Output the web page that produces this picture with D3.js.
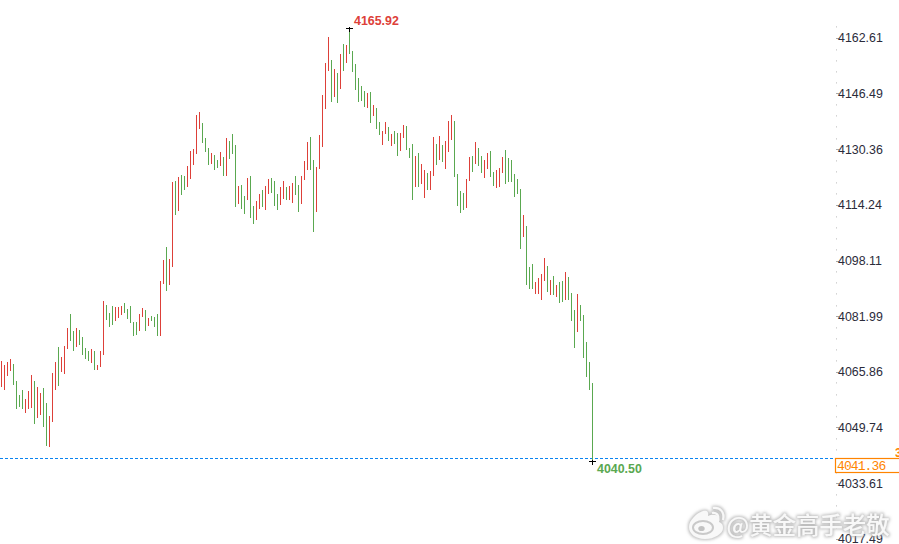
<!DOCTYPE html>
<html>
<head>
<meta charset="utf-8">
<style>
  html, body { margin: 0; padding: 0; background: #fff; overflow: hidden; }
  svg { display: block; }
</style>
<script src="https://cdn.jsdelivr.net/npm/d3@7/dist/d3.min.js"></script>
</head>
<body>
<svg id="chart" width="899" height="544"></svg>
<script>
// Session highs for each bar, oldest first
const highs = [
  4069.4,4068.3,4069.2,4070.0,4068.6,4063.7,4059.6,4061.0,4058.4,4060.8,
  4065.4,4063.7,4061.9,4060.2,4061.6,4057.3,4053.5,4066.0,4069.2,4073.5,
  4070.6,4073.8,4079.0,4083.1,4078.1,4079.0,4078.4,4076.4,4073.2,4072.3,
  4072.9,4072.3,4068.3,4072.3,4086.8,4085.6,4083.4,4085.4,4085.1,4085.1,
  4085.4,4086.2,4084.5,4085.4,4080.7,4080.7,4083.1,4084.8,4084.2,4081.9,
  4082.5,4082.2,4083.1,4092.6,4098.7,4102.5,4099.0,4121.3,4121.6,4122.8,
  4123.3,4123.0,4125.9,4130.3,4130.9,4140.7,4141.6,4138.4,4134.1,4131.2,
  4129.7,4129.1,4127.7,4130.0,4128.5,4134.1,4133.2,4135.2,4132.0,4120.1,
  4120.4,4117.2,4122.5,4123.0,4114.4,4115.8,4117.8,4119.0,4120.1,4122.2,
  4122.5,4121.6,4117.8,4119.9,4121.6,4119.9,4120.1,4121.0,4123.0,4120.4,
  4123.0,4127.4,4132.9,4134.3,4127.7,4125.6,4134.9,4146.5,4155.8,4163.3,
  4156.6,4154.0,4152.9,4158.4,4161.3,4161.0,4165.92,4159.3,4155.5,4151.4,
  4149.1,4147.7,4147.1,4147.4,4143.6,4142.7,4138.7,4136.1,4138.7,4137.2,
  4135.2,4136.1,4135.5,4135.5,4137.8,4137.5,4131.2,4132.3,4128.8,4129.7,
  4126.5,4124.8,4123.9,4124.5,4134.3,4132.3,4134.6,4132.0,4133.2,4139.0,
  4140.7,4139.0,4123.6,4118.7,4118.1,4122.2,4128.5,4128.8,4132.9,4131.2,
  4128.8,4127.7,4129.7,4130.3,4124.2,4124.8,4125.4,4128.5,4130.6,4128.3,
  4127.7,4123.6,4122.2,4119.3,4111.7,4108.6,4096.7,4097.6,4092.3,4093.5,
  4094.7,4099.3,4097.0,4092.9,4094.1,4091.5,4092.3,4092.6,4095.3,4093.8,
  4089.2,4084.2,4088.8,4085.6,4082.8,4075.0,4069.2,4063.1
];

// Session lows for each bar
const lows = [
  4062.0,4061.0,4065.1,4066.6,4062.5,4055.5,4056.1,4055.5,4054.4,4055.5,
  4055.8,4051.2,4052.9,4053.8,4050.3,4044.8,4044.5,4051.8,4061.0,4062.2,
  4066.3,4065.7,4072.9,4075.2,4072.3,4073.5,4074.1,4071.2,4070.0,4069.4,
  4068.9,4066.8,4066.8,4067.7,4071.2,4081.3,4079.3,4079.9,4081.0,4081.9,
  4082.8,4083.4,4081.6,4080.5,4076.7,4077.0,4078.1,4082.2,4078.1,4079.6,
  4081.0,4079.3,4076.7,4076.7,4091.8,4089.7,4091.5,4096.7,4111.7,4112.9,
  4117.5,4119.0,4119.9,4122.2,4126.2,4129.4,4136.7,4132.6,4130.0,4126.2,
  4126.5,4124.8,4125.4,4125.9,4123.0,4123.0,4128.0,4129.4,4114.1,4114.9,
  4113.5,4112.0,4116.1,4110.9,4109.1,4110.3,4113.5,4114.1,4113.2,4117.8,
  4118.1,4114.4,4113.2,4114.6,4116.4,4116.1,4116.1,4115.2,4117.5,4112.6,
  4114.9,4121.9,4124.8,4124.8,4106.8,4112.6,4125.1,4131.5,4142.5,4153.5,
  4144.5,4145.9,4144.2,4148.2,4153.5,4155.8,4158.4,4153.2,4148.0,4144.5,
  4144.8,4143.0,4142.7,4138.4,4140.4,4136.7,4134.9,4132.0,4135.2,4133.2,
  4131.7,4132.3,4128.8,4130.3,4134.1,4130.6,4128.3,4116.1,4119.9,4119.9,
  4120.7,4116.7,4119.0,4119.0,4123.0,4126.2,4127.7,4127.1,4125.1,4130.0,
  4133.5,4122.8,4114.4,4112.3,4113.2,4113.8,4121.6,4124.2,4126.5,4125.9,
  4123.9,4122.5,4125.1,4122.8,4120.1,4119.6,4119.9,4123.9,4120.7,4121.3,
  4121.3,4117.0,4117.8,4101.9,4105.3,4091.5,4090.3,4090.3,4088.8,4088.8,
  4087.1,4092.6,4089.4,4088.5,4088.5,4088.0,4086.2,4086.5,4087.1,4087.1,
  4081.0,4073.2,4077.9,4081.0,4070.3,4064.8,4061.0,4040.5
];

// Bar direction: R closes up (red), G closes down (green), ten bars per group
const directions = [
  "RRRRGGGGRR","RGRRGGRRRG","RRRGGRGGGG","RGRRRGGGRR","RGGGGGRRGR",
  "GGGRRGRRGR","GGRRRRRGGG","RGGRGRGGGR","GGRGGRRGRR","GGGRRGRRGG",
  "RRRGGRRRRR","GRGRGRGGGG","GGRGRGGRRG","RGGRRGGGRG","RRGRRGRGRR",
  "RGGGGRRGRG","GRRGGRRRGG","GGGGRGGGRR","RRGRGRGGRG","GGRGGGGG"
].join("").split("");

// Price labels on the right-hand scale
const priceTicks = [4162.61,4146.49,4130.36,4114.24,4098.11,4081.99,4065.86,4049.74,4033.61,4017.49];
const lastPrice = 4041.36;
const peakPrice = 4165.92;
const troughPrice = 4040.50;

const svg = d3.select("#chart");

const x = d3.scaleLinear().domain([0, highs.length - 1]).range([1.5, 592.5]);
const y = d3.scaleLinear().domain([peakPrice, troughPrice]).range([28, 461]);

const RED = "#dd4039", GREEN = "#5aa850", ORANGE = "#ff8400";
const colorOf = d3.scaleOrdinal().domain(["R", "G"]).range([RED, GREEN]);
const bars = d3.range(highs.length);

// Watermark halo
const defs = svg.append("defs");
const halo = defs.append("filter").attr("id", "halo")
  .attr("x", "-10%").attr("y", "-30%").attr("width", "120%").attr("height", "160%");
halo.append("feMorphology").attr("in", "SourceAlpha").attr("operator", "dilate").attr("radius", 1).attr("result", "fat");
halo.append("feGaussianBlur").attr("in", "fat").attr("stdDeviation", 1.5).attr("result", "soft");
halo.append("feFlood").attr("flood-color", "#a8a8a8").attr("flood-opacity", 0.75);
halo.append("feComposite").attr("in2", "soft").attr("operator", "in").attr("result", "shade");
halo.append("feGaussianBlur").attr("in", "SourceGraphic").attr("stdDeviation", 0.6).attr("result", "face");
const merge = halo.append("feMerge");
merge.append("feMergeNode").attr("in", "shade");
merge.append("feMergeNode").attr("in", "face");

// Right-hand price scale, drawn slightly above the bars' own mapping
const axisShift = -1.6;
const step = priceTicks[0] - priceTicks[1];
const minorTicks = d3.range(-1, 47)
  .map(k => priceTicks[0] - k * step / 5)
  .filter((_, k) => (k - 1) % 5 !== 0);

const axisG = svg.append("g").attr("transform", `translate(836,${axisShift})`);
axisG.selectAll("rect.minor").data(minorTicks).join("rect")
  .attr("class", "minor")
  .attr("x", 0).attr("width", 1)
  .attr("y", d => Math.round(y(d))).attr("height", 1)
  .attr("fill", "#b8b8b8");

const axis = d3.axisRight(y).tickValues(priceTicks).tickSize(3).tickPadding(-1)
  .tickFormat(d3.format(".2f"));
axisG.call(axis);
axisG.select(".domain").remove();
axisG.selectAll(".tick line").attr("stroke", "#a8a8a8").attr("shape-rendering", "crispEdges");
axisG.selectAll(".tick text")
  .attr("font-family", "'Liberation Sans', Arial, sans-serif")
  .attr("font-size", 12.4)
  .attr("fill", "#2b2b3a");

// Last-price line
const lastY = Math.round(y(lastPrice)) + 0.5;
svg.append("line")
  .attr("x1", 0).attr("x2", 835).attr("y1", lastY).attr("y2", lastY)
  .attr("stroke", "#0a84f0").attr("stroke-width", 1).attr("stroke-dasharray", "3,2");

// High-low bars
svg.append("g").selectAll("line").data(bars).join("line")
  .attr("x1", i => x(i)).attr("x2", i => x(i))
  .attr("y1", i => y(highs[i])).attr("y2", i => y(lows[i]))
  .attr("stroke", i => colorOf(directions[i]))
  .attr("stroke-width", 1)
  .attr("shape-rendering", "crispEdges");

// Cross markers on the extreme bars
const extremes = [
  { i: highs.indexOf(peakPrice), v: peakPrice },
  { i: lows.indexOf(troughPrice), v: troughPrice }
];
const marks = svg.append("g").attr("stroke", "#000").attr("shape-rendering", "crispEdges");
extremes.forEach(e => {
  const cx = x(e.i), cy = Math.round(y(e.v)) + 0.5;
  marks.append("line").attr("x1", cx - 3.5).attr("x2", cx + 3.5).attr("y1", cy).attr("y2", cy);
  marks.append("line").attr("x1", cx).attr("x2", cx).attr("y1", cy - 2).attr("y2", cy + 3);
});

// Extreme value captions
const captionFont = "'Liberation Sans', Arial, sans-serif";
svg.append("text")
  .attr("x", x(extremes[0].i) + 4.5).attr("y", y(peakPrice) - 3)
  .attr("font-family", captionFont).attr("font-size", 12.4).attr("font-weight", "bold")
  .attr("fill", RED).text(peakPrice.toFixed(2));
svg.append("text")
  .attr("x", x(extremes[1].i) + 4.5).attr("y", y(troughPrice) + 11.5)
  .attr("font-family", captionFont).attr("font-size", 12.4).attr("font-weight", "bold")
  .attr("fill", GREEN).text(troughPrice.toFixed(2));

// Last-price tag
svg.append("rect")
  .attr("x", 835.5).attr("y", lastY).attr("width", 70).attr("height", 14)
  .attr("fill", "#fff").attr("stroke", ORANGE).attr("stroke-width", 1.2);
svg.append("text")
  .attr("x", 837).attr("y", lastY + 11)
  .attr("font-family", "'Liberation Mono', monospace").attr("font-size", 13)
  .attr("letter-spacing", -0.9)
  .attr("fill", ORANGE).text(lastPrice.toFixed(2));
svg.append("text")
  .attr("x", 895).attr("y", 456.5)
  .attr("font-family", captionFont).attr("font-size", 12).attr("font-weight", "bold")
  .attr("fill", ORANGE).text("3");

// Weibo-style watermark
const mark = svg.append("g").attr("filter", "url(#halo)");
const logo = mark.append("g");
logo.append("path")
  .attr("d", "M689 527c0-7 8-14 14-16 4-1 6 1 5 5 4-2 10-2 11 2 1 2 0 3 0 4 3 1 4 3 4 6 0 6-9 11-18 11-9 0-16-5-16-12z")
  .attr("fill", "#f8f8f8");
logo.append("ellipse").attr("cx", 703).attr("cy", 527.5).attr("rx", 10).attr("ry", 6.5)
  .attr("fill", "none").attr("stroke", "#c9c9c9").attr("stroke-width", 2);
logo.append("ellipse").attr("cx", 701.5).attr("cy", 528.5).attr("rx", 3.2).attr("ry", 2.6)
  .attr("fill", "#c2c2c2");
logo.append("path").attr("d", "M712 513c4-1 7 2 6 6").attr("fill", "none").attr("stroke", "#f8f8f8").attr("stroke-width", 2.2);
logo.append("path").attr("d", "M713 508c7-1 12 4 10 12").attr("fill", "none").attr("stroke", "#f8f8f8").attr("stroke-width", 2.2);
mark.append("text")
  .attr("x", 726.5).attr("y", 533.5)
  .attr("font-family", "'Noto Sans CJK SC', sans-serif").attr("font-size", 23.4).attr("font-weight", 500)
  .attr("fill", "#f8f8f8").text("@黄金高手老敬");
</script>
</body>
</html>
